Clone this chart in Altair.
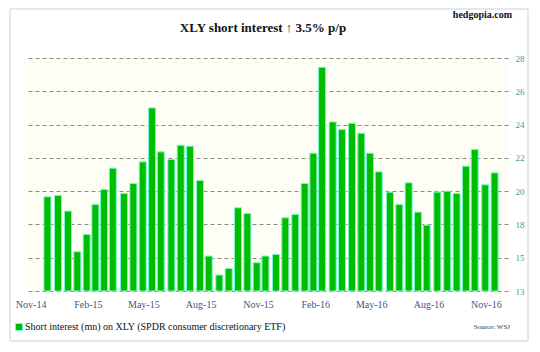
import altair as alt
import pandas as pd

# Settlement dates (semi-monthly) and short interest (mn shares)
dates = ["2014-11-28", "2014-12-15", "2014-12-31", "2015-01-15", "2015-01-30",
         "2015-02-13", "2015-02-27", "2015-03-13", "2015-03-31", "2015-04-15",
         "2015-04-30", "2015-05-15", "2015-05-29", "2015-06-15", "2015-06-30",
         "2015-07-15", "2015-07-31", "2015-08-14", "2015-08-31", "2015-09-15",
         "2015-09-30", "2015-10-15", "2015-10-30", "2015-11-13", "2015-11-30",
         "2015-12-15", "2015-12-31", "2016-01-15", "2016-01-29", "2016-02-12",
         "2016-02-29", "2016-03-15", "2016-03-31", "2016-04-15", "2016-04-29",
         "2016-05-13", "2016-05-31", "2016-06-15", "2016-06-30", "2016-07-15",
         "2016-07-29", "2016-08-15", "2016-08-31", "2016-09-15", "2016-09-30",
         "2016-10-14", "2016-10-31", "2016-11-15"]
short_interest = [19.66, 19.74, 18.80, 16.36, 17.40,
                  19.20, 20.10, 21.38, 19.86, 20.46,
                  21.76, 25.00, 22.36, 21.90, 22.76,
                  22.70, 20.64, 16.10, 14.96, 15.36,
                  19.00, 18.66, 15.70, 16.10, 16.20,
                  18.40, 18.60, 20.46, 22.28, 27.44,
                  24.16, 23.70, 24.08, 23.48, 22.28,
                  21.16, 19.94, 19.20, 20.50, 18.74,
                  17.96, 19.94, 20.00, 19.86, 21.50,
                  22.50, 20.38, 21.10]
series_name = "Short interest (mn) on XLY (SPDR consumer discretionary ETF)"

# Axis ticks as they appear on the original chart
x_tick_months = [(2014, 11), (2015, 2), (2015, 5), (2015, 8), (2015, 11),
                 (2016, 2), (2016, 5), (2016, 8), (2016, 11)]
y_tick_values = [14, 16, 18, 20, 22, 24, 26, 28]
y_tick_labels = ["13", "15", "18", "20", "22", "24", "26", "28"]

title_text = "XLY short interest \u2191 3.5% p/p"
site_text = "hedgopia.com"
source_text = "Source: WSJ"

df = pd.DataFrame({"date": dates, "value": short_interest, "series": series_name})

SERIF = "Liberation Serif"
label_expr = " : ".join(
    f"datum.value == {v} ? '{l}'" for v, l in zip(y_tick_values, y_tick_labels)
) + " : datum.label"

frame = alt.Chart(alt.Data(values=[{"a": 1}])).mark_rect(
    filled=False, stroke="#c3d1de", strokeWidth=1
).encode(
    x=alt.value(-15), x2=alt.value(503), y=alt.value(-49), y2=alt.value(283)
)

bars = alt.Chart(df).mark_bar(
    size=7, stroke="#7af7cf", strokeWidth=1
).encode(
    x=alt.X(
        "date:T",
        scale=alt.Scale(domain=[alt.DateTime(year=2014, month=10, date=31),
                                alt.DateTime(year=2016, month=11, date=28, hours=12)]),
        axis=alt.Axis(
            title=None,
            values=[alt.DateTime(year=y, month=m, date=1) for y, m in x_tick_months],
            format="%b-%y",
            grid=False, domain=False, ticks=False,
            labelFont=SERIF, labelFontSize=10, labelColor="#44557f",
            labelPadding=8, labelOverlap=False,
        ),
    ),
    y=alt.Y(
        "value:Q",
        scale=alt.Scale(domain=[14, 28], zero=False, nice=False),
        axis=alt.Axis(
            title=None, orient="right",
            values=y_tick_values, labelExpr=label_expr,
            grid=True, gridDash=[4, 3], gridColor="#8c8c8c", gridWidth=1,
            domain=False, ticks=False,
            labelFont=SERIF, labelFontSize=9, labelColor="#3a9f86",
            labelPadding=7,
        ),
    ),
    y2=alt.datum(14),
    color=alt.Color(
        "series:N",
        scale=alt.Scale(range=["#00bd00"]),
        legend=alt.Legend(
            title=None, orient="none", legendX=-11, legendY=264,
            symbolType="square", symbolSize=49,
            symbolStrokeColor="#7af7cf", symbolStrokeWidth=1,
            labelFont=SERIF, labelFontSize=10, labelColor="#111111",
            labelOffset=1, labelLimit=400,
        ),
    ),
)

title = alt.Chart(pd.DataFrame({"t": [title_text]})).mark_text(
    font=SERIF, fontSize=13, fontWeight="bold", align="center",
    baseline="alphabetic", color="#111111"
).encode(x=alt.value(238), y=alt.value(-26), text="t:N")
site = alt.Chart(pd.DataFrame({"t": [site_text]})).mark_text(
    font=SERIF, fontSize=10, fontWeight="bold", align="right",
    baseline="alphabetic", color="#111111"
).encode(x=alt.value(487), y=alt.value(-40), text="t:N")
source = alt.Chart(pd.DataFrame({"t": [source_text]})).mark_text(
    font=SERIF, fontSize=7, align="right", baseline="alphabetic", color="#333333"
).encode(x=alt.value(485), y=alt.value(271), text="t:N")

chart = alt.layer(frame, bars, title, site, source).properties(
    width=483, height=233,
    autosize=alt.AutoSizeParams(type="none"),
    padding={"left": 25, "top": 58, "right": 32, "bottom": 61},
).configure_view(
    fill="#fffef4", stroke=None
)

chart.save("out.html", embed_options={"renderer": "svg", "actions": False})
